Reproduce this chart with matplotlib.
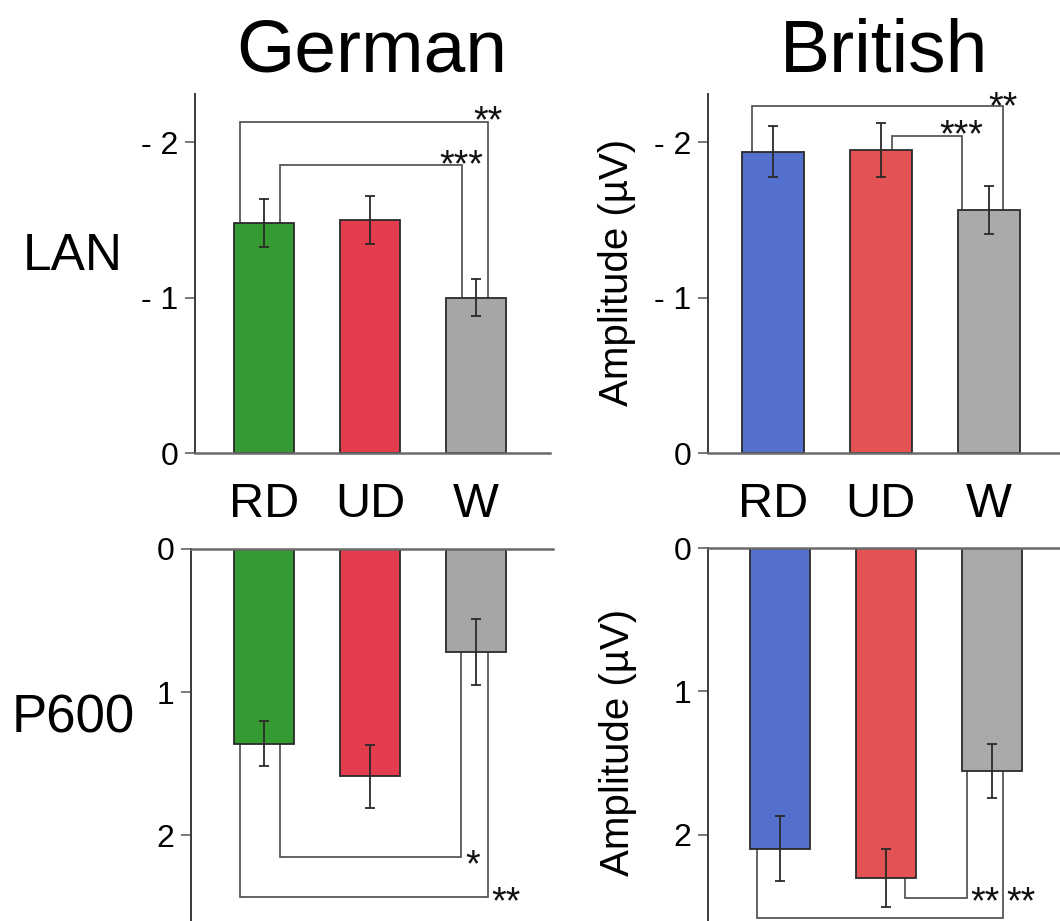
import matplotlib
matplotlib.use('Agg')
import matplotlib.pyplot as plt

plt.rcParams['font.family'] = ['Liberation Sans', 'DejaVu Sans']

# ---------------- data ----------------
categories = ['RD', 'UD', 'W']
groups = ['German', 'British']
components = ['LAN', 'P600']

german_lan = [-1.48, -1.50, -1.00]
german_lan_err = [0.155, 0.155, 0.12]
british_lan = [-1.94, -1.95, -1.565]
british_lan_err = [0.165, 0.175, 0.155]

german_p600 = [1.36, 1.59, 0.72]
german_p600_err = [0.16, 0.22, 0.23]
british_p600 = [2.095, 2.30, 1.555]
british_p600_err = [0.225, 0.205, 0.19]

german_colors = ['#349a31', '#e43e4e', '#a6a6a6']
british_colors = ['#5371cc', '#e35353', '#aaaaaa']

lan_ticks = [0, -1, -2]
lan_ticklabels = ['0', '- 1', '- 2']
p600_ticks = [0, 1, 2]
p600_ticklabels = ['0', '1', '2']

# significance comparisons: (bar a, bar b, bracket level, label)
german_lan_sig = [(0, 2, -2.13, '**'), (0, 2, -1.85, '***')]
british_lan_sig = [(0, 2, -2.23, '**'), (1, 2, -2.04, '***')]
german_p600_sig = [(0, 2, 2.155, '*'), (0, 2, 2.43, '**')]
british_p600_sig = [(1, 2, 2.44, '**'), (0, 2, 2.58, '**')]

ylabel = 'Amplitude (µV)'

# ---------------- figure ----------------
W, H = 1060, 921
fig = plt.figure(figsize=(W / 100, H / 100), dpi=100)


def px_axes(x0, y0, x1, y1):
    return fig.add_axes([x0 / W, 1 - y1 / H, (x1 - x0) / W, (y1 - y0) / H])


ax_gl = px_axes(195, 94, 550, 453)
ax_bl = px_axes(708, 94, 1060, 453)
ax_gp = px_axes(191, 549, 553, 921)
ax_bp = px_axes(708, 548, 1060, 921)

SPINE_DARK = '#3a3a3a'
SPINE_GRAY = '#6a6a6a'
BRACKET = '#4a4a4a'


def draw_panel(ax, values, errs, colors, sig, offsets, label_offsets,
               top_panel, xlim, ylim, ticks, ticklabels):
    x = list(range(len(values)))
    ax.bar(x, values, width=0.57, color=colors, edgecolor='#2b2b2b',
           linewidth=1.3, zorder=2)
    ax.errorbar(x, values, yerr=errs, fmt='none', ecolor='#2a2a2a',
                elinewidth=1.3, capsize=3.5, capthick=1.3, zorder=3)
    for (a, b, level, lab), (oa, ob), (dx, dy, ha) in zip(sig, offsets, label_offsets):
        xa, xb = a + oa, b + ob
        ax.plot([xa, xa, xb, xb], [values[a], level, level, values[b]],
                color=BRACKET, lw=1.2, zorder=1, solid_joinstyle='miter')
        ax.annotate(lab, (xb, level), xytext=(dx, dy),
                    textcoords='offset points', ha=ha,
                    va='baseline', fontsize=27, color='#111111',
                    annotation_clip=False)
    ax.set_xlim(*xlim)
    ax.set_ylim(*ylim)
    ax.set_yticks(ticks, ticklabels)
    ax.tick_params(axis='y', direction='out', length=7, width=1.1,
                   color='#555555', labelsize=23, pad=5)
    ax.spines['right'].set_visible(False)
    ax.spines['left'].set_color(SPINE_DARK)
    ax.spines['left'].set_linewidth(1.4)
    if top_panel:
        ax.spines['top'].set_visible(False)
        ax.spines['bottom'].set_color(SPINE_GRAY)
        ax.spines['bottom'].set_linewidth(1.8)
        ax.set_xticks(x, categories)
        ax.tick_params(axis='x', length=0, pad=21, labelsize=35)
    else:
        ax.spines['bottom'].set_visible(False)
        ax.spines['top'].set_color(SPINE_GRAY)
        ax.spines['top'].set_linewidth(1.8)
        ax.set_xticks([])
    ax.patch.set_alpha(0)


draw_panel(ax_gl, german_lan, german_lan_err, german_colors, german_lan_sig,
           [(-0.226, 0.11), (0.15, -0.135)],
           [(0, -7.5, 'center'), (0, -7.5, 'center')],
           True, (-0.651, 2.698), (0, -2.31), lan_ticks, lan_ticklabels)
draw_panel(ax_bl, british_lan, british_lan_err, british_colors, british_lan_sig,
           [(-0.19, 0.13), (0.10, -0.25)],
           [(0, -8.5, 'center'), (0, -7.5, 'center')],
           True, (-0.6, 2.66), (0, -2.31), lan_ticks, lan_ticklabels)
draw_panel(ax_gp, german_p600, german_p600_err, german_colors, german_p600_sig,
           [(0.15, -0.135), (-0.226, 0.116)],
           [(2.5, -13.5, 'left'), (2.5, -12.0, 'left')],
           False, (-0.69, 2.73), (2.6, 0), p600_ticks, p600_ticklabels)
draw_panel(ax_bp, british_p600, british_p600_err, british_colors, british_p600_sig,
           [(0.18, -0.24), (-0.22, 0.10)],
           [(2.5, -10.8, 'left'), (2.5, 3.5, 'left')],
           False, (-0.68, 2.64), (2.6, 0), p600_ticks, p600_ticklabels)

# titles and row labels
fig.text(372 / W, 1 - 72 / H, groups[0], ha='center', va='baseline', fontsize=54)
fig.text(884 / W, 1 - 72 / H, groups[1], ha='center', va='baseline', fontsize=54)
fig.text(73 / W, 1 - 270 / H, components[0], ha='center', va='baseline', fontsize=37)
fig.text(73 / W, 1 - 732 / H, components[1], ha='center', va='baseline', fontsize=38)

fig.text(617 / W, 1 - 272 / H, ylabel, rotation=90, ha='center', va='center',
         fontsize=29)
fig.text(618 / W, 1 - 742 / H, ylabel, rotation=90, ha='center', va='center',
         fontsize=29)

fig.savefig('out.png', dpi=100)
